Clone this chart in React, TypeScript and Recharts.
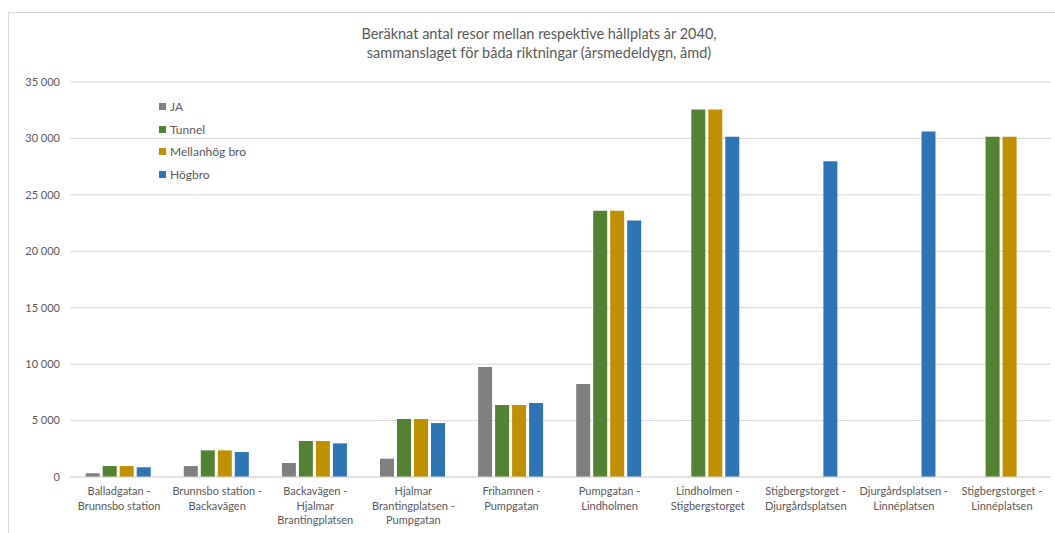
import React from 'react';
import { BarChart, Bar, XAxis, YAxis, CartesianGrid } from 'recharts';

const categories = [
  'Balladgatan - Brunnsbo station',
  'Brunnsbo station - Backavägen',
  'Backavägen - Hjalmar Brantingplatsen',
  'Hjalmar Brantingplatsen - Pumpgatan',
  'Frihamnen - Pumpgatan',
  'Pumpgatan - Lindholmen',
  'Lindholmen - Stigbergstorget',
  'Stigbergstorget - Djurgårdsplatsen',
  'Djurgårdsplatsen - Linnéplatsen',
  'Stigbergstorget - Linnéplatsen',
];

// how each category label wraps under the axis
const tickLines: string[][] = [
  ['Balladgatan -', 'Brunnsbo station'],
  ['Brunnsbo station -', 'Backavägen'],
  ['Backavägen -', 'Hjalmar', 'Brantingplatsen'],
  ['Hjalmar', 'Brantingplatsen -', 'Pumpgatan'],
  ['Frihamnen -', 'Pumpgatan'],
  ['Pumpgatan -', 'Lindholmen'],
  ['Lindholmen -', 'Stigbergstorget'],
  ['Stigbergstorget -', 'Djurgårdsplatsen'],
  ['Djurgårdsplatsen -', 'Linnéplatsen'],
  ['Stigbergstorget -', 'Linnéplatsen'],
];

const ja = [330, 970, 1240, 1620, 9740, 8240, null, null, null, null];
const tunnel = [970, 2360, 3190, 5140, 6380, 23600, 32560, null, null, 30150];
const mellanhog = [970, 2360, 3190, 5140, 6380, 23600, 32560, null, null, 30150];
const hogbro = [860, 2210, 2980, 4780, 6550, 22730, 30150, 27970, 30620, null];

const yTicks = [0, 5000, 10000, 15000, 20000, 25000, 30000, 35000];

const series = [
  { key: 'ja', name: 'JA', color: '#7f7f7f' },
  { key: 'tunnel', name: 'Tunnel', color: '#548235' },
  { key: 'mellanhog', name: 'Mellanhög bro', color: '#bf9000' },
  { key: 'hogbro', name: 'Högbro', color: '#2e75b6' },
];

const data = categories.map((name, i) => ({
  name,
  ja: ja[i],
  tunnel: tunnel[i],
  mellanhog: mellanhog[i],
  hogbro: hogbro[i],
}));

const FONT = 'Lato, "Open Sans", sans-serif';
const TEXT = '#595959';

const formatThousands = (v: number) =>
  v === 0 ? '0' : `${Math.floor(v / 1000)} ${String(v % 1000).padStart(3, '0')}`;

const CategoryTick = (props: any) => {
  const { x, y, index } = props;
  const lines = tickLines[index] || [];
  return (
    <g transform={`translate(${x},${y})`}>
      {lines.map((line, i) => (
        <text
          key={i}
          x={0}
          y={10 + i * 14.5}
          textAnchor="middle"
          fill={TEXT}
          fontSize={11}
          fontFamily={FONT}
        >
          {line}
        </text>
      ))}
    </g>
  );
};

export default function App() {
  return (
    <div style={{ position: 'fixed', left: 0, top: 0, width: 1055, height: 533, background: '#fff', overflow: 'hidden' }}>
      <div
        style={{
          position: 'absolute',
          left: 8,
          top: 12,
          width: 1060,
          height: 540,
          border: '1px solid #d9d9d9',
          boxSizing: 'border-box',
        }}
      />
      <div
        style={{
          position: 'absolute',
          left: 0,
          width: 1078,
          top: 24,
          textAlign: 'center',
          fontFamily: FONT,
          fontSize: 14.5,
          lineHeight: '19px',
          color: TEXT,
        }}
      >
        Beräknat antal resor mellan respektive hållplats år 2040,
        <br />
        sammanslaget för båda riktningar (årsmedeldygn, åmd)
      </div>
      <div style={{ position: 'absolute', left: 0, top: 0 }}>
        <BarChart
          width={1055}
          height={533}
          data={data}
          margin={{ top: 82, right: 4, bottom: 0, left: 0 }}
          barCategoryGap="16%"
          barGap={3}
        >
          <CartesianGrid vertical={false} stroke="#d9d9d9" />
          <XAxis
            dataKey="name"
            interval={0}
            height={56}
            tickLine={false}
            axisLine={{ stroke: '#d9d9d9' }}
            tick={<CategoryTick />}
          />
          <YAxis
            width={70}
            domain={[0, 35000]}
            ticks={yTicks}
            tickFormatter={formatThousands}
            tickLine={false}
            axisLine={false}
            tickMargin={4}
            tick={{ fill: TEXT, fontSize: 11, fontFamily: FONT }}
          />
          {series.map(s => (
            <Bar key={s.key} dataKey={s.key} name={s.name} fill={s.color} isAnimationActive={false} />
          ))}
        </BarChart>
      </div>
      <div
        style={{
          position: 'absolute',
          left: 159,
          top: 95,
          fontFamily: FONT,
          fontSize: 12,
          color: TEXT,
        }}
      >
        {series.map(s => (
          <div key={s.key} style={{ display: 'flex', alignItems: 'center', height: 22.7 }}>
            <span style={{ width: 7, height: 7, background: s.color, marginRight: 4, display: 'inline-block' }} />
            {s.name}
          </div>
        ))}
      </div>
    </div>
  );
}
